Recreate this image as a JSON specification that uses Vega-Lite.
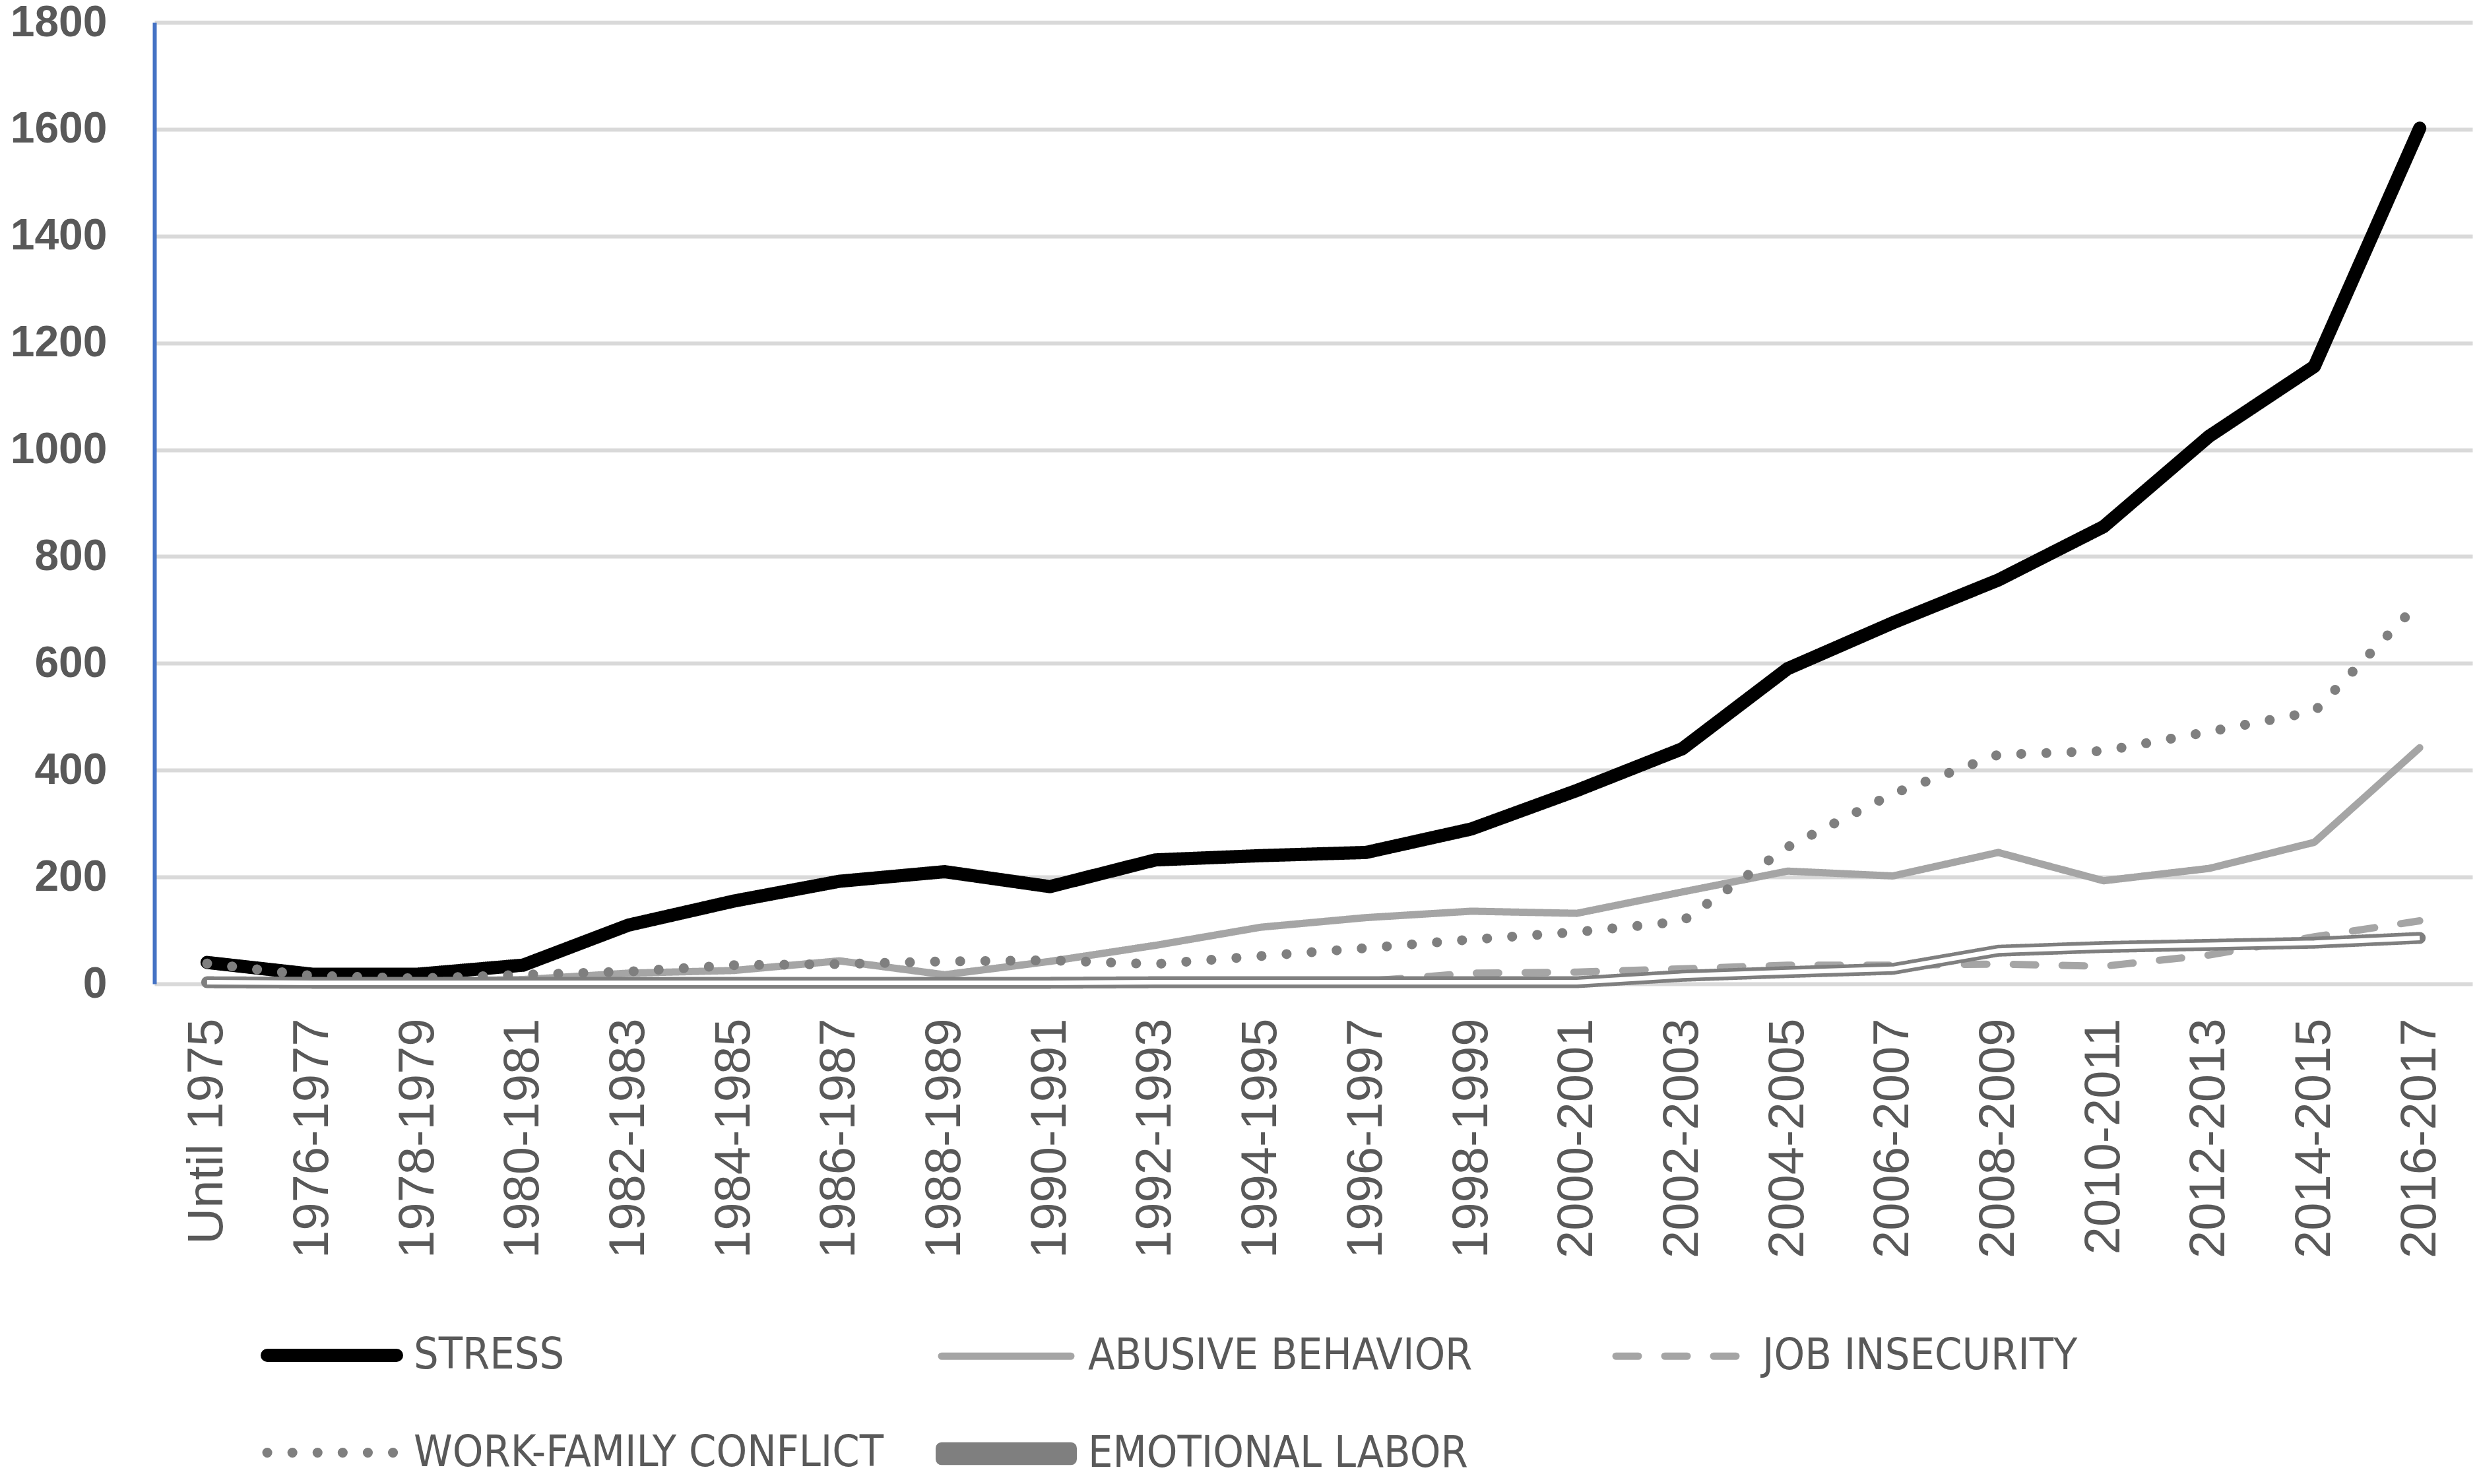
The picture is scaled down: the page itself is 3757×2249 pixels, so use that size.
{
  "$schema": "https://vega.github.io/schema/vega-lite/v6.json",
  "width": 3513,
  "height": 1457,
  "autosize": "none",
  "padding": {"left": 234, "top": 34, "right": 10, "bottom": 758},
  "background": "white",
  "config": {"view": {"stroke": null}},
  "data": {
    "values": [
      {"period": "Until 1975", "series": "STRESS", "n": 40},
      {"period": "1976-1977", "series": "STRESS", "n": 18},
      {"period": "1978-1979", "series": "STRESS", "n": 18},
      {"period": "1980-1981", "series": "STRESS", "n": 35},
      {"period": "1982-1983", "series": "STRESS", "n": 110},
      {"period": "1984-1985", "series": "STRESS", "n": 155},
      {"period": "1986-1987", "series": "STRESS", "n": 192},
      {"period": "1988-1989", "series": "STRESS", "n": 210},
      {"period": "1990-1991", "series": "STRESS", "n": 182},
      {"period": "1992-1993", "series": "STRESS", "n": 232},
      {"period": "1994-1995", "series": "STRESS", "n": 240},
      {"period": "1996-1997", "series": "STRESS", "n": 246},
      {"period": "1998-1999", "series": "STRESS", "n": 290},
      {"period": "2000-2001", "series": "STRESS", "n": 362},
      {"period": "2002-2003", "series": "STRESS", "n": 440},
      {"period": "2004-2005", "series": "STRESS", "n": 590},
      {"period": "2006-2007", "series": "STRESS", "n": 676},
      {"period": "2008-2009", "series": "STRESS", "n": 756},
      {"period": "2010-2011", "series": "STRESS", "n": 856},
      {"period": "2012-2013", "series": "STRESS", "n": 1025},
      {"period": "2014-2015", "series": "STRESS", "n": 1156},
      {"period": "2016-2017", "series": "STRESS", "n": 1602},
      {"period": "Until 1975", "series": "ABUSIVE BEHAVIOR", "n": 5},
      {"period": "1976-1977", "series": "ABUSIVE BEHAVIOR", "n": 3},
      {"period": "1978-1979", "series": "ABUSIVE BEHAVIOR", "n": 5},
      {"period": "1980-1981", "series": "ABUSIVE BEHAVIOR", "n": 8},
      {"period": "1982-1983", "series": "ABUSIVE BEHAVIOR", "n": 20},
      {"period": "1984-1985", "series": "ABUSIVE BEHAVIOR", "n": 25},
      {"period": "1986-1987", "series": "ABUSIVE BEHAVIOR", "n": 43},
      {"period": "1988-1989", "series": "ABUSIVE BEHAVIOR", "n": 17},
      {"period": "1990-1991", "series": "ABUSIVE BEHAVIOR", "n": 42},
      {"period": "1992-1993", "series": "ABUSIVE BEHAVIOR", "n": 72},
      {"period": "1994-1995", "series": "ABUSIVE BEHAVIOR", "n": 106},
      {"period": "1996-1997", "series": "ABUSIVE BEHAVIOR", "n": 124},
      {"period": "1998-1999", "series": "ABUSIVE BEHAVIOR", "n": 136},
      {"period": "2000-2001", "series": "ABUSIVE BEHAVIOR", "n": 132},
      {"period": "2002-2003", "series": "ABUSIVE BEHAVIOR", "n": 172},
      {"period": "2004-2005", "series": "ABUSIVE BEHAVIOR", "n": 211},
      {"period": "2006-2007", "series": "ABUSIVE BEHAVIOR", "n": 202},
      {"period": "2008-2009", "series": "ABUSIVE BEHAVIOR", "n": 246},
      {"period": "2010-2011", "series": "ABUSIVE BEHAVIOR", "n": 193},
      {"period": "2012-2013", "series": "ABUSIVE BEHAVIOR", "n": 216},
      {"period": "2014-2015", "series": "ABUSIVE BEHAVIOR", "n": 265},
      {"period": "2016-2017", "series": "ABUSIVE BEHAVIOR", "n": 442},
      {"period": "Until 1975", "series": "JOB INSECURITY", "n": 2},
      {"period": "1976-1977", "series": "JOB INSECURITY", "n": 2},
      {"period": "1978-1979", "series": "JOB INSECURITY", "n": 2},
      {"period": "1980-1981", "series": "JOB INSECURITY", "n": 2},
      {"period": "1982-1983", "series": "JOB INSECURITY", "n": 2},
      {"period": "1984-1985", "series": "JOB INSECURITY", "n": 2},
      {"period": "1986-1987", "series": "JOB INSECURITY", "n": 2},
      {"period": "1988-1989", "series": "JOB INSECURITY", "n": 3},
      {"period": "1990-1991", "series": "JOB INSECURITY", "n": 3},
      {"period": "1992-1993", "series": "JOB INSECURITY", "n": 5},
      {"period": "1994-1995", "series": "JOB INSECURITY", "n": 4},
      {"period": "1996-1997", "series": "JOB INSECURITY", "n": 5},
      {"period": "1998-1999", "series": "JOB INSECURITY", "n": 20},
      {"period": "2000-2001", "series": "JOB INSECURITY", "n": 22},
      {"period": "2002-2003", "series": "JOB INSECURITY", "n": 28},
      {"period": "2004-2005", "series": "JOB INSECURITY", "n": 35},
      {"period": "2006-2007", "series": "JOB INSECURITY", "n": 35},
      {"period": "2008-2009", "series": "JOB INSECURITY", "n": 37},
      {"period": "2010-2011", "series": "JOB INSECURITY", "n": 33},
      {"period": "2012-2013", "series": "JOB INSECURITY", "n": 54},
      {"period": "2014-2015", "series": "JOB INSECURITY", "n": 88},
      {"period": "2016-2017", "series": "JOB INSECURITY", "n": 118},
      {"period": "Until 1975", "series": "WORK-FAMILY CONFLICT", "n": 38},
      {"period": "1976-1977", "series": "WORK-FAMILY CONFLICT", "n": 15},
      {"period": "1978-1979", "series": "WORK-FAMILY CONFLICT", "n": 10},
      {"period": "1980-1981", "series": "WORK-FAMILY CONFLICT", "n": 17},
      {"period": "1982-1983", "series": "WORK-FAMILY CONFLICT", "n": 23},
      {"period": "1984-1985", "series": "WORK-FAMILY CONFLICT", "n": 35},
      {"period": "1986-1987", "series": "WORK-FAMILY CONFLICT", "n": 37},
      {"period": "1988-1989", "series": "WORK-FAMILY CONFLICT", "n": 42},
      {"period": "1990-1991", "series": "WORK-FAMILY CONFLICT", "n": 44},
      {"period": "1992-1993", "series": "WORK-FAMILY CONFLICT", "n": 37},
      {"period": "1994-1995", "series": "WORK-FAMILY CONFLICT", "n": 52},
      {"period": "1996-1997", "series": "WORK-FAMILY CONFLICT", "n": 67},
      {"period": "1998-1999", "series": "WORK-FAMILY CONFLICT", "n": 83},
      {"period": "2000-2001", "series": "WORK-FAMILY CONFLICT", "n": 97},
      {"period": "2002-2003", "series": "WORK-FAMILY CONFLICT", "n": 117},
      {"period": "2004-2005", "series": "WORK-FAMILY CONFLICT", "n": 256},
      {"period": "2006-2007", "series": "WORK-FAMILY CONFLICT", "n": 356},
      {"period": "2008-2009", "series": "WORK-FAMILY CONFLICT", "n": 429},
      {"period": "2010-2011", "series": "WORK-FAMILY CONFLICT", "n": 436},
      {"period": "2012-2013", "series": "WORK-FAMILY CONFLICT", "n": 472},
      {"period": "2014-2015", "series": "WORK-FAMILY CONFLICT", "n": 510},
      {"period": "2016-2017", "series": "WORK-FAMILY CONFLICT", "n": 715},
      {"period": "Until 1975", "series": "EMOTIONAL LABOR", "n": 3},
      {"period": "1976-1977", "series": "EMOTIONAL LABOR", "n": 2},
      {"period": "1978-1979", "series": "EMOTIONAL LABOR", "n": 2},
      {"period": "1980-1981", "series": "EMOTIONAL LABOR", "n": 2},
      {"period": "1982-1983", "series": "EMOTIONAL LABOR", "n": 2},
      {"period": "1984-1985", "series": "EMOTIONAL LABOR", "n": 2},
      {"period": "1986-1987", "series": "EMOTIONAL LABOR", "n": 2},
      {"period": "1988-1989", "series": "EMOTIONAL LABOR", "n": 2},
      {"period": "1990-1991", "series": "EMOTIONAL LABOR", "n": 2},
      {"period": "1992-1993", "series": "EMOTIONAL LABOR", "n": 3},
      {"period": "1994-1995", "series": "EMOTIONAL LABOR", "n": 3},
      {"period": "1996-1997", "series": "EMOTIONAL LABOR", "n": 3},
      {"period": "1998-1999", "series": "EMOTIONAL LABOR", "n": 3},
      {"period": "2000-2001", "series": "EMOTIONAL LABOR", "n": 3},
      {"period": "2002-2003", "series": "EMOTIONAL LABOR", "n": 15},
      {"period": "2004-2005", "series": "EMOTIONAL LABOR", "n": 22},
      {"period": "2006-2007", "series": "EMOTIONAL LABOR", "n": 28},
      {"period": "2008-2009", "series": "EMOTIONAL LABOR", "n": 62},
      {"period": "2010-2011", "series": "EMOTIONAL LABOR", "n": 69},
      {"period": "2012-2013", "series": "EMOTIONAL LABOR", "n": 73},
      {"period": "2014-2015", "series": "EMOTIONAL LABOR", "n": 77},
      {"period": "2016-2017", "series": "EMOTIONAL LABOR", "n": 86}
    ]
  },
  "encoding": {
    "x": {
      "field": "period",
      "type": "ordinal",
      "sort": null,
      "scale": {"type": "point", "padding": 0.5},
      "axis": {
        "title": null,
        "domain": false,
        "ticks": false,
        "labelAngle": -90,
        "labelAlign": "right",
        "labelBaseline": "middle",
        "labelPadding": 52,
        "labelLimit": 1000,
        "labelFont": "Liberation Sans",
        "labelFontSize": 76,
        "labelColor": "#595959"
      }
    },
    "y": {
      "field": "n",
      "type": "quantitative",
      "scale": {"domain": [0, 1800], "nice": false},
      "axis": {
        "title": null,
        "values": [0, 200, 400, 600, 800, 1000, 1200, 1400, 1600, 1800],
        "format": "d",
        "domainColor": "#4472C4",
        "domainWidth": 6,
        "ticks": false,
        "gridColor": "#D9D9D9",
        "gridWidth": 6,
        "labelPadding": 72,
        "labelFont": "Liberation Sans",
        "labelFontWeight": "bold",
        "labelFontSize": 66,
        "labelColor": "#595959"
      }
    }
  },
  "layer": [
    {
      "mark": {"type": "line", "strokeCap": "round", "strokeJoin": "round"},
      "encoding": {
        "color": {
          "field": "series",
          "type": "nominal",
          "scale": {
            "domain": ["STRESS", "ABUSIVE BEHAVIOR", "JOB INSECURITY", "WORK-FAMILY CONFLICT", "EMOTIONAL LABOR"],
            "range": ["#000000", "#A5A5A5", "#A5A5A5", "#7F7F7F", "#7F7F7F"]
          },
          "legend": {
            "title": null,
            "orient": "none",
            "legendX": 161,
            "legendY": 1910,
            "direction": "horizontal",
            "columns": 3,
            "gridAlign": "all",
            "columnPadding": 51,
            "rowPadding": -50,
            "symbolType": "stroke",
            "symbolSize": 38416,
            "labelOffset": 16,
            "labelFont": "Liberation Sans Narrow, DejaVu Sans Condensed, Liberation Sans",
            "labelFontSize": 66,
            "labelColor": "#595959",
            "labelLimit": 1200,
            "encode": {
              "symbols": {
                "update": {
                  "strokeCap": {"value": "round"},
                  "shape": {"signal": "datum.value == 'EMOTIONAL LABOR' ? 'M-1,-0.085H1M-1,0.085H1M-1,-0.085V0.085M1,-0.085V0.085' : 'stroke'"},
                  "strokeWidth": {"signal": "datum.value == 'STRESS' ? 20 : datum.value == 'EMOTIONAL LABOR' ? 5 : datum.value == 'WORK-FAMILY CONFLICT' ? 15 : 12"},
                  "strokeDash": {"signal": "datum.value == 'JOB INSECURITY' ? [34, 47] : datum.value == 'WORK-FAMILY CONFLICT' ? [0.1, 36] : [1, 0]"}
                }
              }
            }
          }
        },
        "strokeDash": {
          "field": "series",
          "type": "nominal",
          "scale": {
            "domain": ["STRESS", "ABUSIVE BEHAVIOR", "JOB INSECURITY", "WORK-FAMILY CONFLICT", "EMOTIONAL LABOR"],
            "range": [[1, 0], [1, 0], [34, 40], [0.1, 38], [1, 0]]
          }
        },
        "strokeWidth": {
          "field": "series",
          "type": "nominal",
          "legend": null,
          "scale": {
            "type": "ordinal",
            "domain": ["STRESS", "ABUSIVE BEHAVIOR", "JOB INSECURITY", "WORK-FAMILY CONFLICT", "EMOTIONAL LABOR"],
            "range": [20, 11, 11, 15, 18]
          }
        }
      }
    },
    {
      "transform": [{"filter": "datum.series == 'EMOTIONAL LABOR'"}],
      "mark": {"type": "line", "color": "#ffffff", "strokeWidth": 7, "strokeCap": "butt"},
      "encoding": {}
    }
  ]
}
